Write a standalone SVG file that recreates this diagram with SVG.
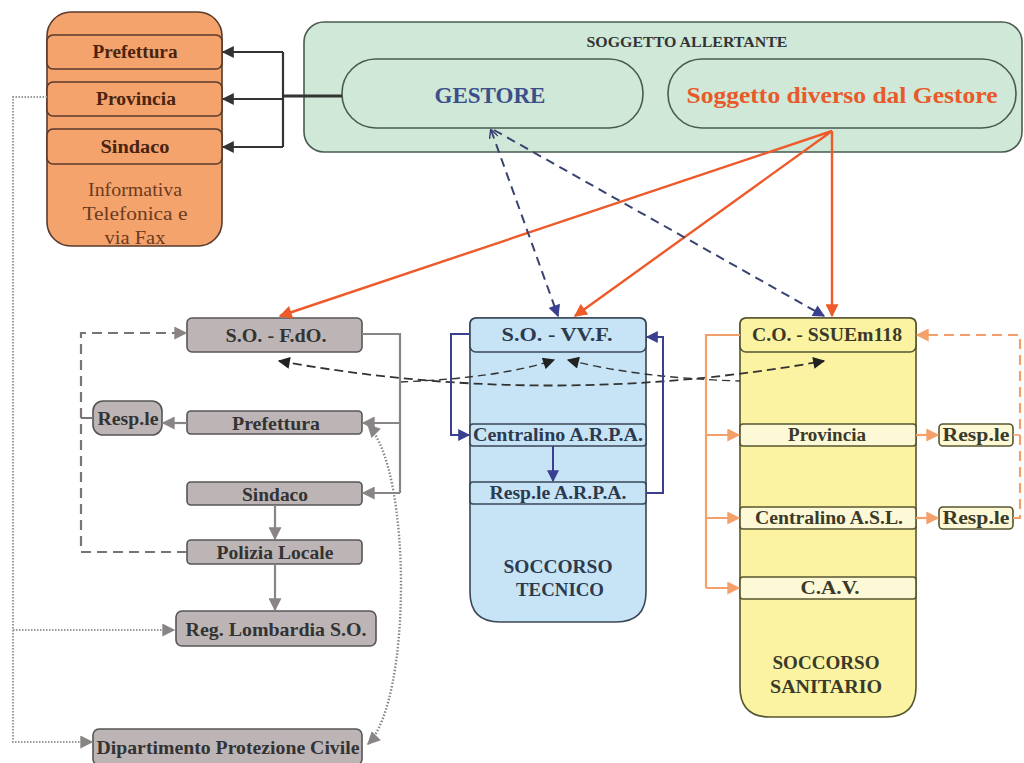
<svg xmlns="http://www.w3.org/2000/svg" width="1024" height="763" viewBox="0 0 1024 763">
  <style>
    text { font-family: "Liberation Serif", "Times New Roman", serif; font-weight: bold; text-anchor: middle; dominant-baseline: central; }
    .orng { fill: #f5a36c; stroke: #5a3a2a; stroke-width: 1.6; }
    .otxt { fill: #4a2410; font-size: 18.5px; }
    .oinfo { fill: #6b3b1f; font-size: 19px; font-weight: normal; }
    .grn { fill: #cfe8d8; stroke: #4a5a50; stroke-width: 1.6; }
    .gry { fill: #bdb5b5; stroke: #555; stroke-width: 1.6; }
    .gtxt { fill: #333; font-size: 19px; }
    .blu { fill: #c6e4f6; stroke: #3a4656; stroke-width: 1.6; }
    .btxt { fill: #2c3a50; font-size: 18px; }
    .yel { fill: #fbf3a2; stroke: #55552f; stroke-width: 1.6; }
    .yrow { fill: #fdf8d6; stroke: #55552f; stroke-width: 1.6; }
    .ytxt { fill: #3a3a2a; font-size: 18px; }
    .big { font-size: 19px; }
    .ln { fill: none; }
  </style>
  <defs>
    <marker id="aBlk" viewBox="0 0 10 10" refX="9" refY="5" markerWidth="14" markerHeight="12" markerUnits="userSpaceOnUse" orient="auto-start-reverse"><path d="M0,0 L10,5 L0,10 z" fill="#333"/></marker>
    <marker id="aRed" viewBox="0 0 10 10" refX="9" refY="5" markerWidth="14" markerHeight="13" markerUnits="userSpaceOnUse" orient="auto-start-reverse"><path d="M0,0 L10,5 L0,10 z" fill="#ee5a2a"/></marker>
    <marker id="aBlu" viewBox="0 0 10 10" refX="9" refY="5" markerWidth="13" markerHeight="12" markerUnits="userSpaceOnUse" orient="auto-start-reverse"><path d="M0,0 L10,5 L0,10 z" fill="#3a3f8f"/></marker>
    <marker id="aBluO" viewBox="0 0 10 10" refX="9" refY="5" markerWidth="10" markerHeight="9" markerUnits="userSpaceOnUse" orient="auto-start-reverse"><path d="M0,0 L10,5 L0,10" fill="none" stroke="#3a3f6f" stroke-width="1.6"/></marker>
    <marker id="aGry" viewBox="0 0 10 10" refX="9" refY="5" markerWidth="14" markerHeight="13" markerUnits="userSpaceOnUse" orient="auto-start-reverse"><path d="M0,0 L10,5 L0,10 z" fill="#8a8585"/></marker>
    <marker id="aOrg" viewBox="0 0 10 10" refX="9" refY="5" markerWidth="14" markerHeight="13" markerUnits="userSpaceOnUse" orient="auto-start-reverse"><path d="M0,0 L10,5 L0,10 z" fill="#f4a06a"/></marker>
    <marker id="aDrk" viewBox="0 0 10 10" refX="9" refY="5" markerWidth="13" markerHeight="12" markerUnits="userSpaceOnUse" orient="auto-start-reverse"><path d="M0,0 L10,5 L0,10 z" fill="#222"/></marker>
  </defs>

  <!-- information block -->
  <g id="informativa">
    <rect class="orng" x="47" y="12" width="175" height="234" rx="24"/>
    <rect class="orng" x="47" y="35" width="175" height="34" rx="6"/>
    <text class="otxt" x="135" y="52" textLength="85" lengthAdjust="spacingAndGlyphs">Prefettura</text>
    <rect class="orng" x="47" y="82" width="175" height="34" rx="6"/>
    <text class="otxt" x="136" y="99" textLength="80" lengthAdjust="spacingAndGlyphs">Provincia</text>
    <rect class="orng" x="47" y="129" width="175" height="35" rx="6"/>
    <text class="otxt" x="135" y="147" textLength="69" lengthAdjust="spacingAndGlyphs">Sindaco</text>
    <text class="oinfo" x="135" y="189" textLength="94" lengthAdjust="spacingAndGlyphs">Informativa</text>
    <text class="oinfo" x="135" y="213" textLength="105" lengthAdjust="spacingAndGlyphs">Telefonica e</text>
    <text class="oinfo" x="135" y="237" textLength="61" lengthAdjust="spacingAndGlyphs">via Fax</text>
  </g>

  <!-- alerting subject -->
  <g id="soggetto-allertante">
    <rect class="grn" x="304" y="22" width="718" height="130" rx="20"/>
    <text x="687" y="42" textLength="201" lengthAdjust="spacingAndGlyphs" style="font-size:14px; fill:#333;">SOGGETTO ALLERTANTE</text>
  </g>
  <g id="gestore">
    <rect class="grn" x="342" y="59" width="301" height="69" rx="34"/>
    <text x="490" y="95" textLength="111" lengthAdjust="spacingAndGlyphs" style="font-size:23px; fill:#3d4f8a;">GESTORE</text>
  </g>
  <g id="soggetto-diverso">
    <rect class="grn" x="668" y="59" width="348" height="69" rx="34"/>
    <text x="842" y="95" textLength="311" lengthAdjust="spacingAndGlyphs" style="font-size:24px; fill:#e85a2a;">Soggetto diverso dal Gestore</text>
  </g>

  <!-- public order column -->
  <g id="so-fdo">
    <rect class="gry" x="187" y="318" width="175" height="34" rx="5"/>
    <text class="gtxt" x="276" y="335" textLength="101" lengthAdjust="spacingAndGlyphs">S.O. - F.dO.</text>
  </g>
  <g id="prefettura">
    <rect class="gry" x="187" y="411" width="175" height="23" rx="4"/>
    <text class="gtxt" x="276" y="423" textLength="88" lengthAdjust="spacingAndGlyphs">Prefettura</text>
  </g>
  <g id="resp-prefettura">
    <rect class="gry" x="93" y="401" width="69" height="34" rx="10"/>
    <text class="gtxt" x="128" y="418" textLength="61" lengthAdjust="spacingAndGlyphs">Resp.le</text>
  </g>
  <g id="sindaco">
    <rect class="gry" x="187" y="482" width="175" height="23" rx="4"/>
    <text class="gtxt" x="275" y="494" textLength="66" lengthAdjust="spacingAndGlyphs">Sindaco</text>
  </g>
  <g id="polizia-locale">
    <rect class="gry" x="187" y="540" width="175" height="24" rx="4"/>
    <text class="gtxt" x="275" y="552" textLength="117" lengthAdjust="spacingAndGlyphs">Polizia Locale</text>
  </g>
  <g id="reg-lombardia">
    <rect class="gry" x="176" y="611" width="200" height="35" rx="6"/>
    <text class="gtxt" x="276" y="629" textLength="181" lengthAdjust="spacingAndGlyphs">Reg. Lombardia  S.O.</text>
  </g>
  <g id="dip-protezione-civile">
    <rect class="gry" x="93" y="729" width="269" height="36" rx="6"/>
    <text class="gtxt" x="228" y="747" textLength="263" lengthAdjust="spacingAndGlyphs">Dipartimento Protezione Civile</text>
  </g>

  <!-- technical rescue column -->
  <g id="soccorso-tecnico">
    <path class="blu" d="M476,318 H640 Q646,318 646,324 V592 Q646,622 616,622 H500 Q470,622 470,592 V324 Q470,318 476,318 Z"/>
    <rect class="blu" x="470" y="318" width="176" height="34" rx="6"/>
    <text class="btxt" x="557" y="335" textLength="111" lengthAdjust="spacingAndGlyphs">S.O. - VV.F.</text>
    <rect class="blu" x="470" y="424" width="176" height="22" rx="3"/>
    <text class="btxt" x="558" y="435" textLength="170" lengthAdjust="spacingAndGlyphs">Centralino A.R.P.A.</text>
    <rect class="blu" x="470" y="482" width="176" height="22" rx="3"/>
    <text class="btxt" x="558" y="493" textLength="137" lengthAdjust="spacingAndGlyphs">Resp.le A.R.P.A.</text>
    <text class="btxt big" x="558" y="566" textLength="109" lengthAdjust="spacingAndGlyphs">SOCCORSO</text>
    <text class="btxt big" x="560" y="589" textLength="88" lengthAdjust="spacingAndGlyphs">TECNICO</text>
  </g>

  <!-- health rescue column -->
  <g id="soccorso-sanitario">
    <path class="yel" d="M746,318 H910 Q916,318 916,324 V687 Q916,717 886,717 H770 Q740,717 740,687 V324 Q740,318 746,318 Z"/>
    <rect class="yrow" x="740" y="318" width="176" height="34" rx="6" style="fill:#fbf3a2;"/>
    <text class="ytxt" x="827" y="335" textLength="150" lengthAdjust="spacingAndGlyphs">C.O. - SSUEm118</text>
    <rect class="yrow" x="740" y="424" width="176" height="22" rx="3"/>
    <text class="ytxt" x="827" y="435" textLength="78" lengthAdjust="spacingAndGlyphs">Provincia</text>
    <rect class="yrow" x="740" y="507" width="176" height="22" rx="3"/>
    <text class="ytxt" x="829" y="518" textLength="148" lengthAdjust="spacingAndGlyphs">Centralino A.S.L.</text>
    <rect class="yrow" x="740" y="577" width="176" height="22" rx="3"/>
    <text class="ytxt" x="830" y="588" textLength="59" lengthAdjust="spacingAndGlyphs">C.A.V.</text>
    <text class="ytxt big" x="826" y="662" textLength="107" lengthAdjust="spacingAndGlyphs">SOCCORSO</text>
    <text class="ytxt big" x="826" y="686" textLength="112" lengthAdjust="spacingAndGlyphs">SANITARIO</text>
  </g>
  <g id="resp-provincia">
    <rect class="yrow" x="939" y="424" width="74" height="22" rx="4"/>
    <text class="ytxt" x="976" y="435" textLength="67" lengthAdjust="spacingAndGlyphs">Resp.le</text>
  </g>
  <g id="resp-asl">
    <rect class="yrow" x="939" y="507" width="74" height="22" rx="4"/>
    <text class="ytxt" x="976" y="518" textLength="67" lengthAdjust="spacingAndGlyphs">Resp.le</text>
  </g>

  <!-- connectors -->
  <g id="connectors" class="ln">
    <!-- manager to information block -->
    <path d="M342,96 H283" stroke="#333" stroke-width="3"/>
    <path d="M283,52 V147" stroke="#333" stroke-width="2.2"/>
    <path d="M283,52 H223" stroke="#333" stroke-width="2.2" marker-end="url(#aBlk)"/>
    <path d="M283,99 H223" stroke="#333" stroke-width="2.2" marker-end="url(#aBlk)"/>
    <path d="M283,147 H223" stroke="#333" stroke-width="2.2" marker-end="url(#aBlk)"/>

    <!-- other subject to operations rooms -->
    <path d="M832,131 L280,316" stroke="#ee5a2a" stroke-width="2.4" marker-end="url(#aRed)"/>
    <path d="M832,131 L575,316" stroke="#ee5a2a" stroke-width="2.4" marker-end="url(#aRed)"/>
    <path d="M832,131 V316" stroke="#ee5a2a" stroke-width="2.4" marker-end="url(#aRed)"/>

    <!-- manager to operations rooms -->
    <path d="M491,130 L558,316" stroke="#3a4470" stroke-width="2" stroke-dasharray="9,6" marker-start="url(#aBluO)" marker-end="url(#aBlu)"/>
    <path d="M494,130 L824,316" stroke="#3a4470" stroke-width="2" stroke-dasharray="9,6" marker-end="url(#aBlu)"/>

    <!-- operations rooms exchange -->
    <path d="M279,361 Q550,410 824,361" stroke="#333" stroke-width="1.8" stroke-dasharray="9,5" marker-start="url(#aDrk)" marker-end="url(#aDrk)"/>
    <path d="M400,382 Q500,378 554,360" stroke="#333" stroke-width="1.4" stroke-dasharray="8,5" marker-end="url(#aDrk)"/>
    <path d="M568,360 Q640,378 740,381" stroke="#333" stroke-width="1.4" stroke-dasharray="8,5" marker-start="url(#aDrk)"/>

    <!-- public order chain -->
    <path d="M362,334 H400 V493" stroke="#8a8585" stroke-width="2.2"/>
    <path d="M400,423 H363" stroke="#8a8585" stroke-width="2.2" marker-end="url(#aGry)"/>
    <path d="M400,493 H363" stroke="#8a8585" stroke-width="2.2" marker-end="url(#aGry)"/>
    <path d="M187,423 H163" stroke="#8a8585" stroke-width="2.2" marker-end="url(#aGry)"/>
    <path d="M275,505 V539" stroke="#8a8585" stroke-width="2.2" marker-end="url(#aGry)"/>
    <path d="M275,564 V610" stroke="#8a8585" stroke-width="2.2" marker-end="url(#aGry)"/>
    <path d="M187,552 H81 V333 H186" stroke="#7a7575" stroke-width="2.2" stroke-dasharray="10,6" marker-end="url(#aGry)"/>
    <path d="M81,418 H93" stroke="#7a7575" stroke-width="2"/>

    <!-- dotted information lines -->
    <path d="M47,97 H13 V742 H92" stroke="#999" stroke-width="2" stroke-dasharray="1.5,1.5" marker-end="url(#aGry)"/>
    <path d="M13,630 H174" stroke="#999" stroke-width="2" stroke-dasharray="1.5,1.5" marker-end="url(#aGry)"/>
    <path d="M368,425 C412,470 412,700 368,744" stroke="#8a8585" stroke-width="2.4" stroke-dasharray="1.5,1.8" marker-start="url(#aGry)" marker-end="url(#aGry)"/>

    <!-- technical rescue chain -->
    <path d="M470,334 H451 V435 H469" stroke="#3a3f8f" stroke-width="2" marker-end="url(#aBlu)"/>
    <path d="M553,446 V481" stroke="#3a3f8f" stroke-width="2" marker-end="url(#aBlu)"/>
    <path d="M646,493 H663 V337 H647" stroke="#3a3f8f" stroke-width="2" marker-end="url(#aBlu)"/>

    <!-- health rescue chain -->
    <path d="M740,335 H706 V588" stroke="#f4a06a" stroke-width="2.2"/>
    <path d="M706,435 H739" stroke="#f4a06a" stroke-width="2.2" marker-end="url(#aOrg)"/>
    <path d="M706,518 H739" stroke="#f4a06a" stroke-width="2.2" marker-end="url(#aOrg)"/>
    <path d="M706,588 H739" stroke="#f4a06a" stroke-width="2.2" marker-end="url(#aOrg)"/>
    <path d="M916,435 H938" stroke="#f4a06a" stroke-width="2.2" marker-end="url(#aOrg)"/>
    <path d="M916,518 H938" stroke="#f4a06a" stroke-width="2.2" marker-end="url(#aOrg)"/>
    <path d="M1013,435 H1020" stroke="#f4a06a" stroke-width="1.6"/>
    <path d="M1013,518 H1020 V335 H917" stroke="#f4a06a" stroke-width="2.2" stroke-dasharray="10,6" marker-end="url(#aOrg)"/>
  </g>
</svg>
